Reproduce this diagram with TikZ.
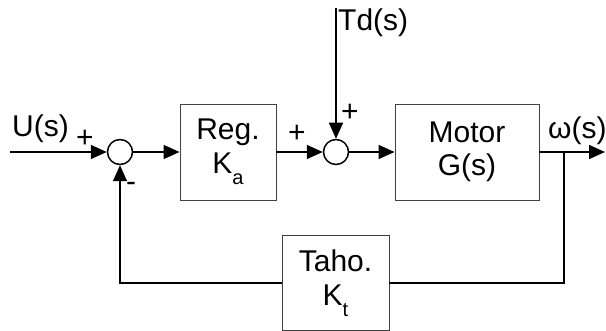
\documentclass[tikz,border=0pt]{standalone}
\usepackage{fontspec}
\setmainfont{Liberation Sans}
\usepackage{tikz}
\usetikzlibrary{positioning, arrows.meta, calc}

\newcommand{\lowidx}[1]{\raisebox{-0.35em}{\fontsize{20}{20}\selectfont #1}}

\begin{document}
\begin{tikzpicture}[
    x=1pt, y=-1pt,
    font=\fontsize{30}{37}\selectfont,
    sig/.style={line width=1.6pt, -{Triangle[length=16pt,width=14pt]}},
    wire/.style={line width=1.6pt},
    block/.style={draw=black!75, line width=0.9pt, rectangle, align=center, inner sep=0pt},
    sumnode/.style={draw, circle, line width=1.5pt, minimum size=25pt, inner sep=0pt},
    sign/.style={inner sep=0pt}
]
    \useasboundingbox (0,0) rectangle (606,331);

    % Blocks
    \node[sumnode] (sum1) at (120,152) {};
    \node[block, minimum width=96pt, minimum height=96pt] (reg) at (228,152) {Reg.\\[-3pt]K\lowidx{a}};
    \node[sumnode] (sum2) at (336,152) {};
    \node[block, minimum width=144pt, minimum height=96pt] (motor) at (467,152) {Motor\\[-4pt]G(s)};
    \node[block, minimum width=107pt, minimum height=95pt] (taho) at (335.5,283) {Taho.\\[-3pt]K\lowidx{t}};

    % Free ends
    \coordinate (in) at (10,152);
    \coordinate (td) at (336,8);
    \coordinate (out) at (605,152);
    \coordinate (branch) at (564,152);

    % Forward path
    \draw[sig] (in) -- (sum1);
    \draw[sig] (sum1) -- (reg);
    \draw[sig] (reg) -- (sum2);
    \draw[sig] (td) -- (sum2);
    \draw[sig] (sum2) -- (motor);
    \draw[sig] (motor) -- (out);

    % Feedback path
    \draw[wire] (branch) |- (taho);
    \draw[sig] (taho) -| (sum1);

    % Labels
    \node[anchor=base west, inner sep=0pt] at (12,137) {U(s)};
    \node[sign] at (85,139) {+};
    \node[sign] at (131,187) {-};
    \node[sign] at (297,134) {+};
    \node[sign] at (350,113) {+};
    \node[anchor=base west, inner sep=0pt] at (338,31) {Td(s)};
    \node[anchor=base west, inner sep=0pt] at (548,139) {ω(s)};
\end{tikzpicture}
\end{document}
